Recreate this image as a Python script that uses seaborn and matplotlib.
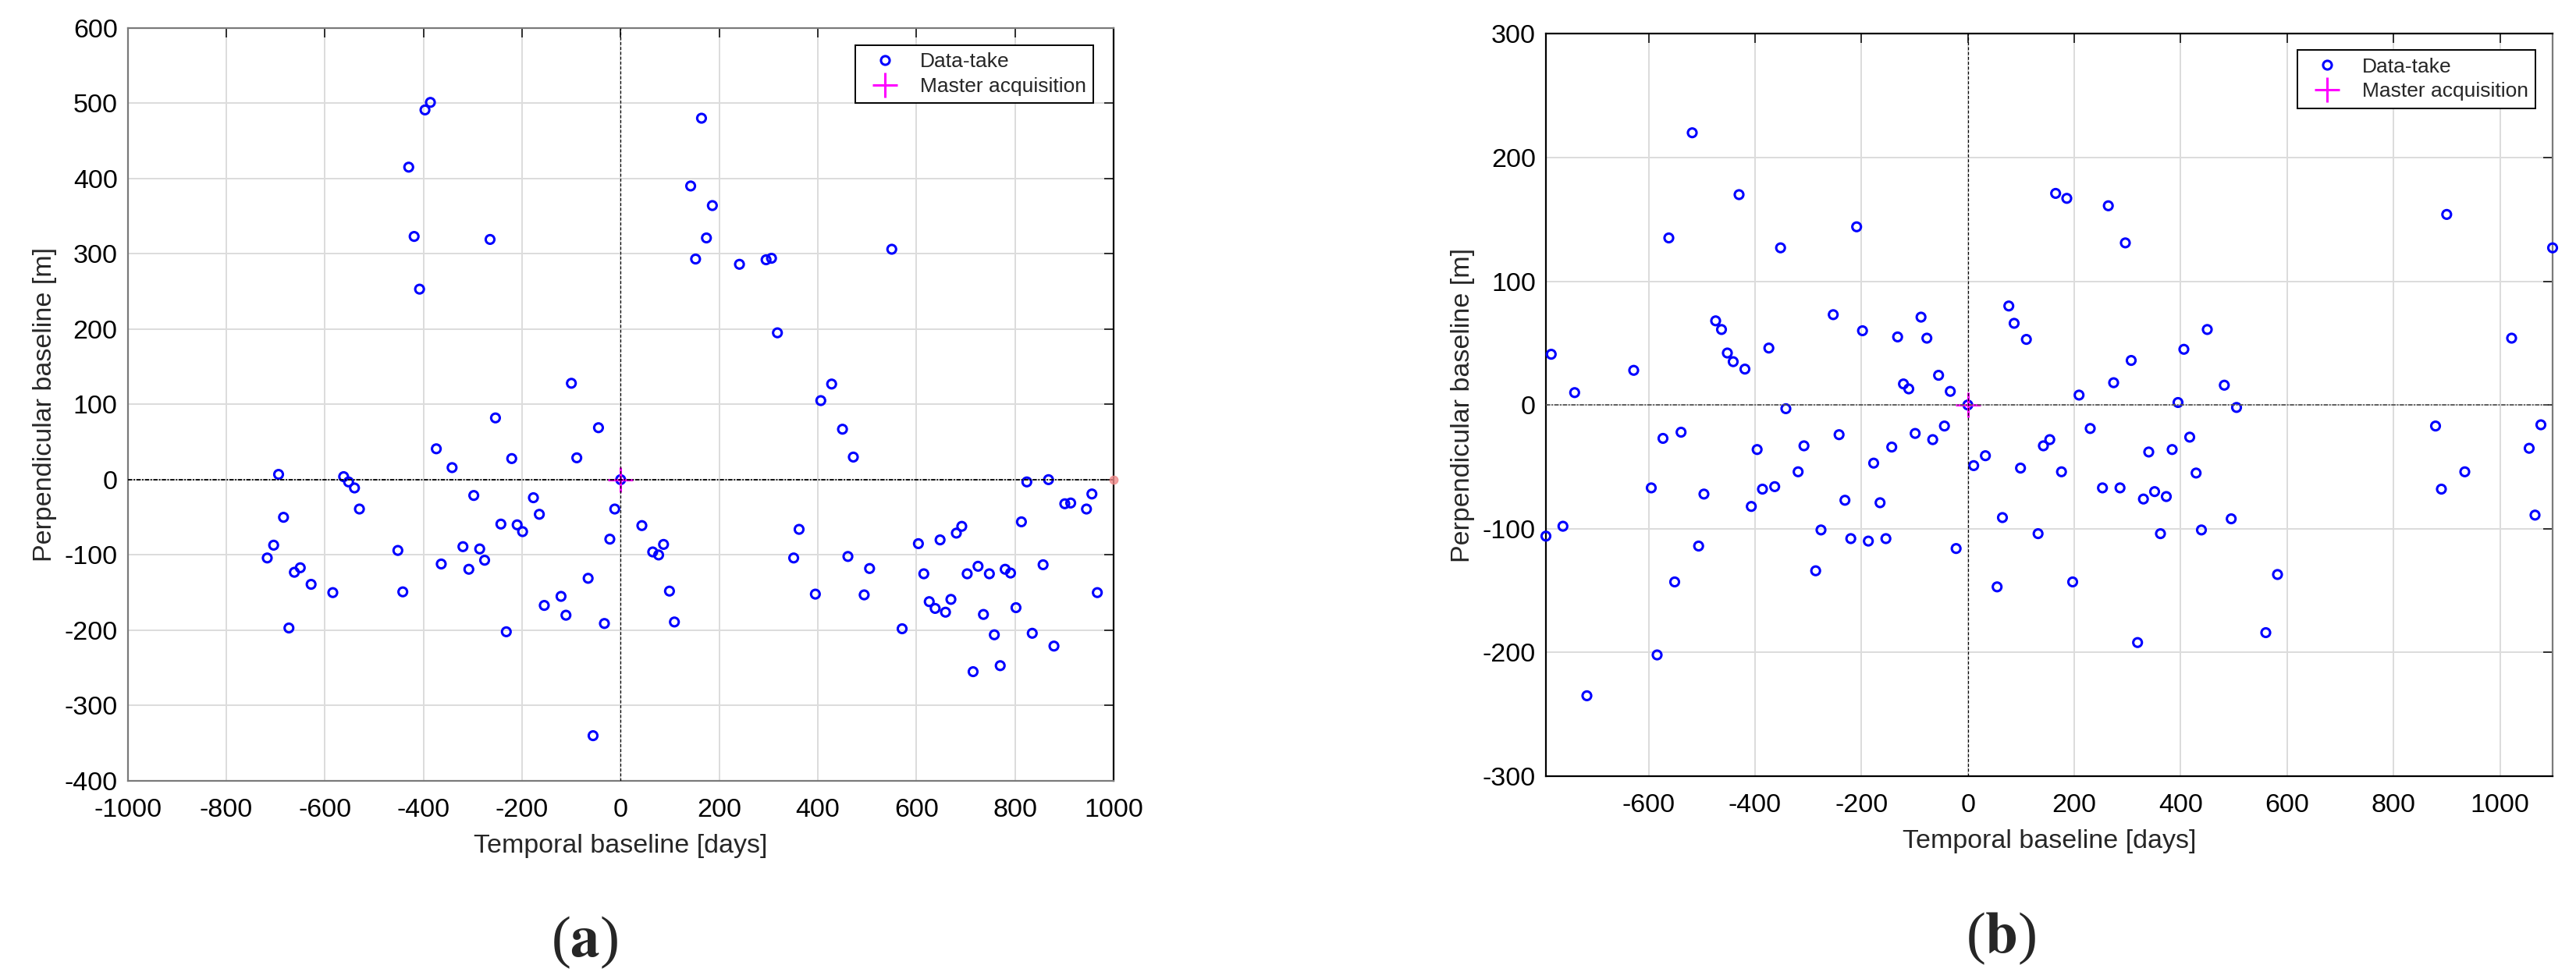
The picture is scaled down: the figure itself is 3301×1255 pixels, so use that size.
import matplotlib
matplotlib.use("Agg")
import matplotlib.pyplot as plt
from matplotlib.lines import Line2D
import pandas as pd
import seaborn as sns

# Panel (a): data-takes, temporal vs perpendicular baseline
a_days = [-386, -397, -430, -419, -265, -408, -100,
          -694, -684, -704, -717, -662, -650, -628, -673, -584,
          -562, -552, -540, -530, -452, -442, -374, -364, -342,
          -320, -308, -298, -286, -276, -254, -243, -232, -221,
          -210, -199, -177, -165, -155, -121, -111, -89, -66,
          -56, -45, -33, -22, -12, 0,
          164, 142, 186, 174, 152, 241, 295, 306, 550, 318, 428, 406, 450, 472,
          43, 65, 77, 87, 99, 109, 362, 351, 395, 461, 505, 494, 571, 604, 615,
          626, 638, 648, 659, 670, 681, 692, 703, 715, 725, 736, 748, 758, 770,
          780, 791, 802, 813, 824, 835, 857, 868, 879, 901, 913, 945, 956, 967]
a_perp = [501, 491, 415, 323, 319, 253, 128,
          7, -50, -87, -104, -123, -117, -139, -197, -150,
          4, -3, -11, -39, -94, -149, 41, -112, 16,
          -89, -119, -21, -92, -107, 82, -59, -202, 28,
          -60, -69, -24, -46, -167, -155, -180, 29, -131,
          -340, 69, -191, -79, -39, 0,
          480, 390, 364, 321, 293, 286, 292, 294, 306, 195, 127, 105, 67, 30,
          -61, -96, -100, -86, -148, -189, -66, -104, -152, -102, -118, -153, -198, -85, -125,
          -162, -171, -80, -176, -159, -71, -62, -125, -255, -115, -179, -125, -206, -247,
          -119, -124, -170, -56, -3, -204, -113, 0, -221, -32, -31, -39, -19, -150]

# Panel (b)
b_days = [-518, -430, -562, -209, -352, -253, -474, -463, -198, -88, -132, -77, -783,
          -374, -452, -441, -419, -628, -55, -121, -111, -739, -33, -342, 0,
          -793, -761, -716, -595, -584, -573, -539, -551, -496, -506, -407, -396, -386,
          -363, -319, -308, -286, -276, -242, -231, -220, -187, -177, -165, -154, -143,
          -99, -66, -44, -22, 11, 33,
          165, 186, 264, 296, 900, 1099, 77, 87, 110, 450, 406, 307, 1022, 274, 482,
          209, 395, 505,
          230, 142, 154, 417, 340, 384, 99, 176, 429, 253, 286, 351, 330, 373, 65,
          495, 132, 362, 439, 582, 55, 197, 560, 319, 879, 1077, 1055, 934, 890, 1066]
b_perp = [220, 170, 135, 144, 127, 73, 68, 61, 60, 71, 55, 54, 41,
          46, 42, 35, 29, 28, 24, 17, 13, 10, 11, -3, 0,
          -106, -98, -235, -67, -202, -27, -22, -143, -72, -114, -82, -36, -68,
          -66, -54, -33, -134, -101, -24, -77, -108, -110, -47, -79, -108, -34,
          -23, -28, -17, -116, -49, -41,
          171, 167, 161, 131, 154, 127, 80, 66, 53, 61, 45, 36, 54, 18, 16,
          8, 2, -2,
          -19, -33, -28, -26, -38, -36, -51, -54, -55, -67, -67, -70, -76, -74, -91,
          -92, -104, -104, -101, -137, -147, -143, -184, -192, -17, -16, -35, -54, -68, -89]

a_xticks = list(range(-1000, 1001, 200))
a_yticks = list(range(-400, 601, 100))
b_xticks = list(range(-600, 1001, 200))
b_yticks = list(range(-300, 301, 100))

sns.set_style("white")
plt.rcParams['font.family'] = ['Liberation Sans', 'DejaVu Sans']
plt.rcParams['axes.unicode_minus'] = False
plt.rcParams['mathtext.fontset'] = 'stix'

W, H = 3301, 1255
fig = plt.figure(figsize=(W / 100, H / 100), dpi=100)


def draw_panel(rect, days, perp, xlim, ylim, xticks, yticks, leg_box, ylab_x, xlab_gap,
               grey_spines, black_spines, zero_color):
    ax = fig.add_axes(rect)
    df = pd.DataFrame({'days': days, 'perp': perp})
    sns.scatterplot(data=df, x='days', y='perp', ax=ax, marker='o', s=64,
                    color='none', edgecolor='blue', linewidth=2.2,
                    clip_on=False, zorder=3, legend=False)
    pts = ax.collections[-1]
    pts.set_facecolor('none')
    pts.set_edgecolor('blue')

    # master acquisition
    ax.plot([0], [0], marker='+', ms=23, mew=2.2, color='magenta', ls='none', zorder=4)
    ax.axhline(0, color=zero_color, lw=1.3, ls=(0, (3, 1, 1, 1)), zorder=5)
    ax.axvline(0, color='black', lw=0.9, ls=(0, (3, 2)), zorder=5)

    ax.set_xlim(*xlim)
    ax.set_ylim(*ylim)
    ax.set_xticks(xticks)
    ax.set_yticks(yticks)
    ax.grid(True, color='#dcdcdc', lw=1.4)
    ax.set_axisbelow(True)
    ax.tick_params(direction='in', length=8.6, width=1.1, colors='black',
                   labelsize=24.5, top=True, right=True)
    ax.tick_params(axis='x', pad=16)
    ax.tick_params(axis='y', pad=9.4)
    for s in grey_spines:
        ax.spines[s].set_color('#7a7a7a')
        ax.spines[s].set_linewidth(1.6)
    for s in black_spines:
        ax.spines[s].set_color('black')
        ax.spines[s].set_linewidth(1.6)

    ax.set_xlabel('Temporal baseline [days]', fontsize=24.5)
    ax.set_ylabel('Perpendicular baseline [m]', fontsize=24.5)
    ax.xaxis.set_label_coords(0.5, xlab_gap)
    ax.yaxis.set_label_coords(ylab_x, 0.5)

    handles = [
        Line2D([], [], marker='o', ls='none', mfc='none', mec='blue', ms=8, mew=2.2),
        Line2D([], [], marker='+', ls='none', color='magenta', ms=23, mew=2.2),
    ]
    leg = ax.legend(handles, ['Data-take', 'Master acquisition'], loc='upper right',
                    bbox_to_anchor=leg_box, borderaxespad=0, fontsize=19,
                    fancybox=False, framealpha=1, edgecolor='black',
                    borderpad=0.35, labelspacing=0.3, handlelength=2.2,
                    handletextpad=0.6)
    leg.get_frame().set_linewidth(1.4)
    return ax


# panel (a)
ax_a = draw_panel([163.7 / W, (H - 1001) / H, (1427 - 163.7) / W, (1001 - 35.7) / H],
                  a_days, a_perp, (-1000, 1000), (-400, 600), a_xticks, a_yticks,
                  (1 - 26 / 1263, 1 - 22 / 965), (73 - 163.7) / 1263, -(1069 - 1001) / 965,
                  ['left', 'top', 'bottom'], ['right'], 'black')
ax_a.plot([1000], [0], marker='o', ms=7.5, color='#f08a8a', alpha=0.8,
          clip_on=False, zorder=6)

# panel (b)
ax_b = draw_panel([1981 / W, (H - 995) / H, (3271 - 1981) / W, (995 - 43.3) / H],
                  b_days, b_perp, (-793, 1099), (-300, 300), b_xticks, b_yticks,
                  (1 - 22 / 1290, 1 - 21 / 952), (1890 - 1981) / 1290, -(1063 - 995) / 952,
                  ['right'], ['left', 'top', 'bottom'], '#555555')

# sub-figure captions: regular parentheses, bold letter
fig.text(749 / W, 1 - 1208 / H, r'($\mathbf{a}$)', ha='center', va='center',
         fontsize=54, family='Liberation Serif')
fig.text(2564 / W, 1 - 1203 / H, r'($\mathbf{b}$)', ha='center', va='center',
         fontsize=54, family='Liberation Serif')

fig.savefig('out.png', dpi=100)
